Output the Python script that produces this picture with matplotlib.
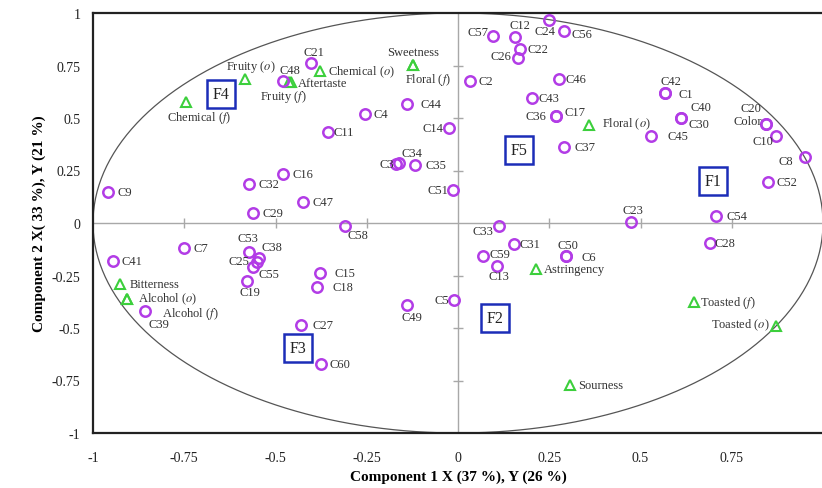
import matplotlib
matplotlib.use("Agg")
import matplotlib.pyplot as plt
import numpy as np

plt.rcParams['font.family'] = ['Liberation Serif', 'DejaVu Serif']
plt.rcParams['mathtext.fontset'] = 'stix'

# ---- data: consumers (circles) ----
cons_names = ["C9", "C21", "C48", "C44", "C4", "C11", "C14", "C34", "C3", "C35", "C51",
              "C16", "C32", "C47", "C29", "C57", "C12", "C24", "C56", "C22", "C26", "C2",
              "C46", "C43", "C36", "C17", "C37", "C42", "C1", "C40", "C30", "C45", "C20",
              "Color", "C10", "C8", "C52", "C54", "C23", "C58", "C7", "C41", "C53", "C38",
              "C25", "C55", "C19", "C15", "C18", "C39", "C49", "C5", "C27", "C60", "C33",
              "C31", "C59", "C13", "C50", "C6", "C28"]
cons_x = [-0.959, -0.403, -0.479, -0.140, -0.255, -0.357, -0.025, -0.162, -0.170, -0.117, -0.013,
          -0.480, -0.572, -0.424, -0.561, 0.097, 0.156, 0.249, 0.290, 0.170, 0.164, 0.033,
          0.277, 0.202, 0.268, 0.268, 0.290, 0.567, 0.567, 0.611, 0.611, 0.529, 0.844,
          0.844, 0.871, 0.951, 0.849, 0.707, 0.474, -0.310, -0.750, -0.945, -0.573, -0.545,
          -0.551, -0.561, -0.579, -0.378, -0.386, -0.857, -0.140, -0.011, -0.430, -0.376, 0.112,
          0.153, 0.068, 0.107, 0.296, 0.296, 0.690]
cons_y = [0.148, 0.762, 0.676, 0.567, 0.519, 0.433, 0.452, 0.286, 0.281, 0.276, 0.158,
          0.233, 0.186, 0.100, 0.048, 0.890, 0.886, 0.967, 0.915, 0.829, 0.786, 0.676,
          0.686, 0.595, 0.510, 0.510, 0.362, 0.619, 0.619, 0.500, 0.500, 0.414, 0.471,
          0.471, 0.414, 0.314, 0.195, 0.033, 0.005, -0.014, -0.119, -0.181, -0.138, -0.167,
          -0.184, -0.211, -0.275, -0.238, -0.303, -0.419, -0.390, -0.367, -0.486, -0.671, -0.014,
          -0.100, -0.157, -0.205, -0.157, -0.157, -0.095]

# ---- data: sensory attributes (triangles) ----
attr_names = ["Chemical (o)", "Fruity (o)", "Aftertaste", "Fruity (f)", "Chemical (f)",
              "Sweetness", "Floral (f)", "Floral (o)", "Bitterness", "Alcohol (o)",
              "Alcohol (f)", "Astringency", "Toasted (f)", "Toasted (o)", "Sourness"]
attr_x = [-0.378, -0.584, -0.458, -0.462, -0.745, -0.123, -0.123, 0.359, -0.926, -0.907,
          -0.907, 0.214, 0.647, 0.871, 0.307]
attr_y = [0.724, 0.686, 0.671, 0.672, 0.576, 0.752, 0.752, 0.467, -0.290, -0.362,
          -0.362, -0.219, -0.376, -0.490, -0.771]

# ---- data: factors (boxes) ----
fact_names = ["F1", "F2", "F3", "F4", "F5"]
fact_x = [0.698, 0.101, -0.438, -0.650, 0.167]
fact_y = [0.200, -0.452, -0.595, 0.614, 0.348]

# ---- label placement (pixel offsets from marker, alignment) ----
cons_lab = {
    "C9": (10, 0, "left"), "C21": (3, 11, "center"), "C48": (-4, 11, "left"),
    "C44": (14, 0, "left"), "C4": (9, 0, "left"), "C11": (6, 0, "left"),
    "C14": (-6, 0, "right"), "C34": (13, 10, "center"), "C3": (-2, 0, "right"),
    "C35": (10, 0, "left"), "C51": (-5, 0, "right"), "C16": (10, 0, "left"),
    "C32": (9, 0, "left"), "C47": (9, 0, "left"), "C29": (9, 0, "left"),
    "C57": (-5, 4, "right"), "C12": (5, 12, "center"), "C24": (-4, -11, "center"),
    "C56": (8, -3, "left"), "C22": (7, 0, "left"), "C26": (-6, 2, "right"),
    "C2": (8, 0, "left"), "C46": (6, 0, "left"), "C43": (7, 0, "left"),
    "C36": (-9, 0, "right"), "C17": (9, 4, "left"), "C37": (11, 0, "left"),
    "C42": (6, 12, "center"), "C1": (14, -1, "left"), "C40": (20, 11, "center"),
    "C30": (7, -6, "left"), "C45": (16, 0, "left"), "C20": (-15, 16, "center"),
    "Color": (-4, 3, "right"), "C10": (-3, -5, "right"), "C8": (-12, -4, "right"),
    "C52": (9, 0, "left"), "C54": (10, 0, "left"), "C23": (2, 12, "center"),
    "C58": (3, -9, "left"), "C7": (9, 0, "left"), "C41": (8, 0, "left"),
    "C53": (-1, 14, "center"), "C38": (2, 11, "left"), "C25": (-8, 1, "right"),
    "C55": (5, -7, "left"), "C19": (3, -11, "center"), "C15": (14, 0, "left"),
    "C18": (15, 0, "left"), "C39": (14, -13, "center"), "C49": (5, -12, "center"),
    "C5": (-5, 0, "right"), "C27": (11, 0, "left"), "C60": (9, 0, "left"),
    "C33": (-6, -5, "right"), "C31": (6, 0, "left"), "C59": (7, 2, "left"),
    "C13": (2, -10, "center"), "C50": (2, 11, "center"), "C6": (15, -1, "left"),
    "C28": (5, 0, "left"),
}
attr_lab = {
    "Chemical (o)": (8, 0, "left"), "Fruity (o)": (6, 13, "center"),
    "Aftertaste": (7, -1, "left"), "Fruity (f)": (-6, -14, "center"),
    "Chemical (f)": (13, -15, "center"), "Sweetness": (0, 13, "center"),
    "Floral (f)": (15, -14, "center"), "Floral (o)": (13, 2, "left"),
    "Bitterness": (10, 0, "left"), "Alcohol (o)": (11, 1, "left"),
    "Alcohol (f)": (35, -14, "left"), "Astringency": (8, 0, "left"),
    "Toasted (f)": (6, 0, "left"), "Toasted (o)": (-6, 2, "right"),
    "Sourness": (8, 0, "left"),
}


def fmt(s):
    # italic o / f inside parentheses
    return s.replace("(o)", r"($\mathit{o}$)").replace("(f)", r"($\mathit{f}$)")


PURPLE = "#b23ce6"
GREEN = "#3ccf3c"
BLUE = "#1c2db8"

fig = plt.figure(figsize=(8.22, 4.89), dpi=100)
ax = fig.add_axes([93 / 822, 1 - 434 / 489, 730 / 822, 420 / 489])
ax.set_xlim(-1, 1)
ax.set_ylim(-1, 1)

# zero lines with minor ticks
ax.axhline(0, color="#a8a8a8", lw=1.0, zorder=1)
ax.axvline(0, color="#a8a8a8", lw=1.0, zorder=1)
tks = [-0.75, -0.5, -0.25, 0.25, 0.5, 0.75]
ax.plot(tks, [0] * len(tks), ls="none", marker="|", ms=7, mew=1.0, color="#a8a8a8", zorder=1)
ax.plot([0] * len(tks), tks, ls="none", marker="_", ms=7, mew=1.0, color="#a8a8a8", zorder=1)

# correlation circle
t = np.linspace(0, 2 * np.pi, 400)
ax.plot(np.cos(t), np.sin(t), color="#555555", lw=0.9, zorder=2)

# attributes
ax.plot(attr_x, attr_y, ls="none", marker="^", ms=7.5, mfc="none", mec=GREEN, mew=1.5, zorder=3)
for n, x, y in zip(attr_names, attr_x, attr_y):
    dx, dy, ha = attr_lab[n]
    ax.annotate(fmt(n), (x, y), xytext=(dx, dy), textcoords="offset pixels", ha=ha, va="center",
                fontsize=9, color="#333333", zorder=5)

# consumers
ax.plot(cons_x, cons_y, ls="none", marker="o", ms=7.5, mfc="none", mec=PURPLE, mew=1.8, zorder=4)
for n, x, y in zip(cons_names, cons_x, cons_y):
    dx, dy, ha = cons_lab[n]
    ax.annotate(n, (x, y), xytext=(dx, dy), textcoords="offset pixels", ha=ha, va="center",
                fontsize=9, color="#333333", zorder=5)

# factors
ax.plot(fact_x, fact_y, ls="none", marker="s", ms=20, mfc="white", mec=BLUE, mew=1.8, zorder=6)
for n, x, y in zip(fact_names, fact_x, fact_y):
    ax.text(x, y, n, ha="center", va="center", fontsize=11.5, color="#222222", zorder=7)

# axes styling
ax.set_xticks([-1, -0.75, -0.5, -0.25, 0, 0.25, 0.5, 0.75])
ax.set_xticklabels(["-1", "-0.75", "-0.5", "-0.25", "0", "0.25", "0.5", "0.75"])
ax.set_yticks([-1, -0.75, -0.5, -0.25, 0, 0.25, 0.5, 0.75, 1])
ax.set_yticklabels(["-1", "-0.75", "-0.5", "-0.25", "0", "0.25", "0.5", "0.75", "1"])
ax.tick_params(length=0, labelsize=10, labelcolor="#222222")
ax.tick_params(axis="x", pad=13)
ax.tick_params(axis="y", pad=9)
for s in ["left", "top", "bottom"]:
    ax.spines[s].set_linewidth(1.6)
    ax.spines[s].set_color("#222222")
ax.spines["right"].set_visible(False)

ax.set_xlabel("Component 1 X (37 %), Y (26 %)", fontsize=11, fontweight="bold", labelpad=4)
ax.set_ylabel("Component 2 X( 33 %), Y (21 %)", fontsize=11, fontweight="bold", labelpad=4)

fig.savefig("out.png", dpi=100)
